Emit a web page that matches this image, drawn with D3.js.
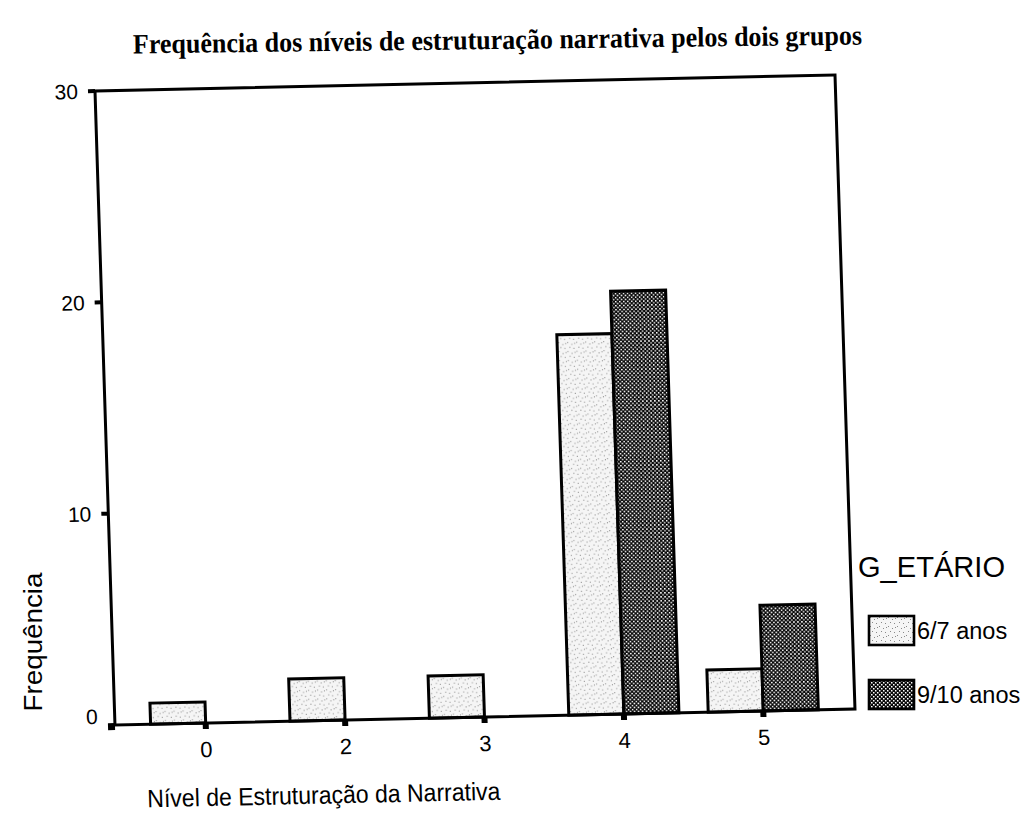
<!DOCTYPE html>
<html>
<head>
<meta charset="utf-8">
<script src="https://cdn.jsdelivr.net/npm/d3@7"></script>
<style>
    body { margin: 0; background: #fff; }
    svg { display: block; }
    text { font-family: 'Liberation Sans', Arial, sans-serif; fill: #000; }
</style>
</head>
<body>
<svg id="svg" width="1028" height="835"></svg>
<script>
// valores
const categories = ['0', '2', '3', '4', '5'];
const groups = ['6/7 anos', '9/10 anos'];
const freq67 = [1, 2, 2, 18, 2];
const freq910 = [0, 0, 0, 20, 5];
const yTicks = [0, 10, 20, 30];

const title = 'Frequência dos níveis de estruturação narrativa pelos dois grupos';
const xTitle = 'Nível de Estruturação da Narrativa';
const yTitle = 'Frequência';
const legendTitle = 'G_ETÁRIO';

const plot = {left: 95, top: 91, right: 835, bottom: 725};

let svg = d3.select('#svg');
let defs = svg.append('defs');

// pontilhado claro (6/7 anos)
let dots = defs.append('pattern')
    .attr('id', 'fill-dots')
    .attr('patternUnits', 'userSpaceOnUse')
    .attr('width', 9)
    .attr('height', 9);
dots.append('rect').attr('width', 9).attr('height', 9).style('fill', '#f5f5f5');
[[1, 1], [5, 3], [3, 6], [7, 7], [8, 2]].forEach(p => {
    dots.append('rect')
        .attr('x', p[0]).attr('y', p[1])
        .attr('width', 1).attr('height', 1)
        .style('fill', '#8a8a8a');
});

// xadrez escuro (9/10 anos)
let checker = defs.append('pattern')
    .attr('id', 'fill-checker')
    .attr('patternUnits', 'userSpaceOnUse')
    .attr('width', 4)
    .attr('height', 4);
checker.append('rect').attr('width', 4).attr('height', 4).style('fill', '#0a0a0a');
checker.append('rect').attr('x', 0).attr('y', 0).attr('width', 1.5).attr('height', 1.5).style('fill', '#fff');
checker.append('rect').attr('x', 2).attr('y', 2).attr('width', 1.5).attr('height', 1.5).style('fill', '#fff');

const fills = {'6/7 anos': 'url(#fill-dots)', '9/10 anos': 'url(#fill-checker)'};

// a digitalização está ligeiramente inclinada
let g = svg.append('g')
    .attr('transform', `translate(${plot.left},${plot.top}) matrix(1,-0.0216,0.0315,1,0,0) translate(${-plot.left},${-plot.top})`);

let x = d3.scaleBand()
    .domain(categories)
    .range([116, 813])
    .paddingInner(0.21)
    .paddingOuter(0.105);

let xSub = d3.scaleBand()
    .domain(groups)
    .range([0, x.bandwidth()]);

let y = d3.scaleLinear()
    .domain([0, 30])
    .range([plot.bottom, plot.top]);

let bars = [];
categories.forEach((c, i) => {
    bars.push({cat: c, group: groups[0], value: freq67[i]});
    bars.push({cat: c, group: groups[1], value: freq910[i]});
});

g.selectAll('.bar')
    .data(bars.filter(d => d.value > 0))
    .enter()
    .append('rect')
        .attr('class', 'bar')
        .attr('x', d => {return x(d.cat) + xSub(d.group)})
        .attr('y', d => {return y(d.value)})
        .attr('width', xSub.bandwidth())
        .attr('height', d => {return y(0) - y(d.value)})
        .style('fill', d => {return fills[d.group]})
        .style('stroke', '#000')
        .style('stroke-width', 3);

// moldura
g.append('rect')
    .attr('x', plot.left)
    .attr('y', plot.top)
    .attr('width', plot.right - plot.left)
    .attr('height', plot.bottom - plot.top)
    .style('fill', 'none')
    .style('stroke', '#000')
    .style('stroke-width', 3);

// marcas do eixo y
g.selectAll('.ytick')
    .data(yTicks)
    .enter()
    .append('rect')
        .attr('class', 'ytick')
        .attr('x', plot.left - 7)
        .attr('y', d => {return y(d) - 2})
        .attr('width', 7)
        .attr('height', d => {return d == 0 ? 7 : 4})
        .style('fill', '#000');

g.selectAll('.ylabel')
    .data(yTicks)
    .enter()
    .append('text')
        .attr('class', 'ylabel')
        .attr('x', plot.left - 17)
        .attr('y', d => {return y(d) - (d == 0 ? 9 : 0)})
        .attr('dy', '0.36em')
        .attr('text-anchor', 'end')
        .style('font-size', '21px')
        .text(d => d);

// marcas do eixo x
g.selectAll('.xtick')
    .data(categories)
    .enter()
    .append('rect')
        .attr('class', 'xtick')
        .attr('x', d => {return x(d) + x.bandwidth() / 2 - 3})
        .attr('y', plot.bottom)
        .attr('width', 6)
        .attr('height', 6)
        .style('fill', '#000');

g.selectAll('.xlabel')
    .data(categories)
    .enter()
    .append('text')
        .attr('class', 'xlabel')
        .attr('x', d => {return x(d) + x.bandwidth() / 2})
        .attr('y', plot.bottom + 34)
        .attr('text-anchor', 'middle')
        .style('font-size', '22px')
        .text(d => d);

g.append('text')
    .attr('x', 125)
    .attr('y', 808)
    .attr('textLength', 353)
    .attr('lengthAdjust', 'spacingAndGlyphs')
    .style('font-size', '25px')
    .text(xTitle);

// título
svg.append('text')
    .attr('x', 133)
    .attr('y', 49)
    .attr('transform', 'rotate(-0.7, 497, 44)')
    .attr('textLength', 729)
    .attr('lengthAdjust', 'spacingAndGlyphs')
    .style('font-family', "'Liberation Serif', 'Times New Roman', serif")
    .style('font-weight', 'bold')
    .style('font-size', '28px')
    .text(title);

svg.append('text')
    .attr('transform', 'translate(42, 642) rotate(-90)')
    .attr('text-anchor', 'middle')
    .attr('textLength', 139)
    .attr('lengthAdjust', 'spacingAndGlyphs')
    .style('font-size', '26px')
    .text(yTitle);

// legenda
let legend = svg.append('g')
    .attr('transform', 'translate(858, 0)');

legend.append('text')
    .attr('x', 0)
    .attr('y', 577)
    .attr('textLength', 147)
    .attr('lengthAdjust', 'spacingAndGlyphs')
    .style('font-size', '29px')
    .text(legendTitle);

legend.selectAll('.legend-item')
    .data(groups)
    .enter()
    .append('g')
        .attr('class', 'legend-item')
        .attr('transform', (d, i) => {return `translate(11, ${616 + i * 64})`})
        .each(function (d) {
            let item = d3.select(this);
            item.append('rect')
                .attr('width', 45)
                .attr('height', 29)
                .style('fill', fills[d])
                .style('stroke', '#000')
                .style('stroke-width', 2.6);
            item.append('text')
                .attr('x', 48)
                .attr('y', 15)
                .attr('dy', '0.36em')
                .style('font-size', '23.5px')
                .text(d);
        });
</script>
</body>
</html>
